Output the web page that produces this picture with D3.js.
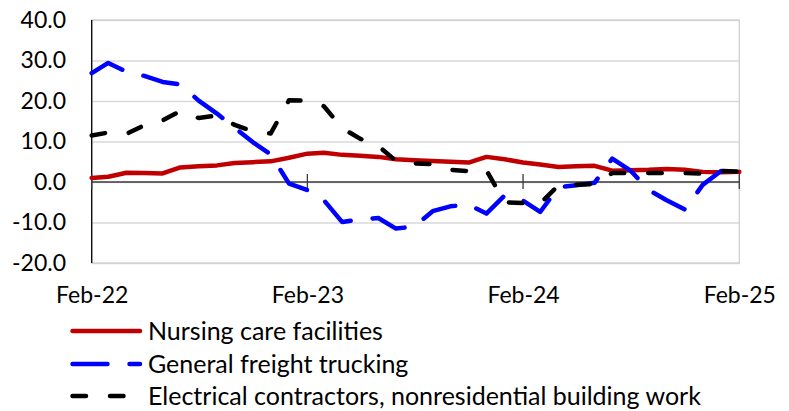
<!DOCTYPE html>
<html>
<head>
<meta charset="utf-8">
<script src="https://cdn.jsdelivr.net/npm/d3@7"></script>
<style>
  html, body { margin: 0; padding: 0; background: #fff; }
  svg { display: block; }
  text { font-family: Lato, "Open Sans", sans-serif; fill: #000; }
</style>
</head>
<body>
<svg id="chart" width="789" height="411"></svg>
<script>
// Monthly periods, Feb-22 .. Feb-25
const months = [
  "Feb-22","Mar-22","Apr-22","May-22","Jun-22","Jul-22","Aug-22","Sep-22","Oct-22","Nov-22","Dec-22",
  "Jan-23","Feb-23","Mar-23","Apr-23","May-23","Jun-23","Jul-23","Aug-23","Sep-23","Oct-23","Nov-23","Dec-23",
  "Jan-24","Feb-24","Mar-24","Apr-24","May-24","Jun-24","Jul-24","Aug-24","Sep-24","Oct-24","Nov-24","Dec-24",
  "Jan-25","Feb-25"
];

const nursingCare = [
  1.0, 1.3, 2.3, 2.2, 2.1, 3.6, 3.9, 4.1, 4.7, 4.9, 5.1,
  6.0, 7.0, 7.2, 6.7, 6.5, 6.2, 5.6, 5.4, 5.2, 5.0, 4.8, 6.2,
  5.6, 4.8, 4.3, 3.7, 3.9, 4.0, 2.8, 2.9, 3.0, 3.2, 3.0, 2.5,
  2.4, 2.5
];

const freightTrucking = [
  26.9, 29.4, 27.2, 26.2, 24.7, 24.1, 20.1, 16.9, 13.4, 9.8, 6.8,
  -0.4, -2.0, -4.5, -9.9, -9.2, -8.9, -11.5, -11.0, -7.2, -6.0, -5.6, -7.8,
  -3.3, -4.6, -7.4, -1.3, -0.8, -0.2, 5.8, 2.8, -2.0, -4.5, -6.8, -0.7,
  2.7, 2.5
];

const electricalContractors = [
  11.5, 12.2, 11.9, 14.0, 15.2, 17.5, 15.8, 16.4, 14.1, 12.5, 12.0,
  20.2, 20.1, 18.7, 13.3, 10.7, 8.9, 5.2, 4.6, 4.4, 3.0, 2.7, 2.9,
  -5.0, -5.2, -5.3, -0.8, -0.7, -0.5, 2.2, 2.2, 2.2, 2.2, 2.2, 2.1,
  2.7, 2.6
];

const seriesNames = [
  "Nursing care facilities",
  "General freight trucking",
  "Electrical contractors, nonresidential building work"
];

const yTicks = [-20, -10, 0, 10, 20, 30, 40];
const xTickLabels = ["Feb-22", "Feb-23", "Feb-24", "Feb-25"];

// ---- layout ----
const parseMonth = d3.timeParse("%b-%y");
const dates = months.map(parseMonth);

const plot = { left: 91.7, right: 739.3, top: 20, bottom: 263 };
const axisFontSize = 23;
const legendFontSize = 25;

const svg = d3.select("#chart");

const x = d3.scaleTime()
  .domain([dates[0], dates[dates.length - 1]])
  .range([plot.left, plot.right]);

const y = d3.scaleLinear()
  .domain([-20, 40])
  .range([plot.bottom, plot.top]);

// gridlines
svg.append("g")
  .attr("transform", `translate(${plot.left},0)`)
  .call(d3.axisLeft(y).tickValues(yTicks).tickSize(-(plot.right - plot.left)).tickFormat(""))
  .call(g => g.select(".domain").remove())
  .call(g => g.selectAll(".tick line").attr("stroke", "#d9d9d9").attr("stroke-width", 1.3));

// plot border (light grey on top/right/bottom)
svg.append("rect")
  .attr("x", plot.left).attr("y", plot.top)
  .attr("width", plot.right - plot.left).attr("height", plot.bottom - plot.top)
  .attr("fill", "none").attr("stroke", "#d0d0d0").attr("stroke-width", 1.3);

// value axis line
svg.append("line")
  .attr("x1", plot.left).attr("x2", plot.left)
  .attr("y1", plot.top).attr("y2", plot.bottom)
  .attr("stroke", "#000").attr("stroke-width", 1.3);

// value axis labels
svg.append("g")
  .attr("transform", `translate(66,0)`)
  .call(d3.axisLeft(y).tickValues(yTicks).tickSize(0).tickPadding(0).tickFormat(d => d.toFixed(1)))
  .call(g => g.select(".domain").remove())
  .call(g => g.selectAll("text")
    .attr("font-size", axisFontSize)
    .attr("font-family", "Lato, sans-serif")
    .attr("fill", "#000"));

// category axis at zero with crossing tick marks
const xTickDates = xTickLabels.map(parseMonth);
const y0 = y(0);
svg.append("line")
  .attr("x1", plot.left).attr("x2", plot.right)
  .attr("y1", y0).attr("y2", y0)
  .attr("stroke", "#3a3a3a").attr("stroke-width", 1.3);

svg.append("g").selectAll("line")
  .data(xTickDates)
  .join("line")
  .attr("x1", d => x(d)).attr("x2", d => x(d))
  .attr("y1", y0 - 8).attr("y2", y0 + 7)
  .attr("stroke", "#3a3a3a").attr("stroke-width", 1.3);

// category labels below the plot
svg.append("g")
  .attr("transform", `translate(0,${plot.bottom + 24})`)
  .call(d3.axisBottom(x).tickValues(xTickDates).tickSize(0).tickPadding(0).tickFormat(d3.timeFormat("%b-%y")))
  .call(g => g.select(".domain").remove())
  .call(g => g.selectAll("text")
    .attr("font-size", axisFontSize)
    .attr("font-family", "Lato, sans-serif")
    .attr("fill", "#000"));

// ---- series ----
const series = [
  { name: seriesNames[0], values: nursingCare, color: "#c00000", dash: null },
  { name: seriesNames[1], values: freightTrucking, color: "#0000ff", dash: "35,22" },
  { name: seriesNames[2], values: electricalContractors, color: "#000000", dash: "13.5,24" }
];

const line = d3.line()
  .x((d, i) => x(dates[i]))
  .y(d => y(d));

const lineWidth = 4.5;

svg.append("g").selectAll("path")
  .data(series)
  .join("path")
  .attr("d", s => line(s.values))
  .attr("fill", "none")
  .attr("stroke", s => s.color)
  .attr("stroke-width", lineWidth)
  .attr("stroke-linejoin", "round")
  .attr("stroke-linecap", "round")
  .attr("stroke-dasharray", s => s.dash);

// ---- legend ----
const legendRows = [331, 364, 396];
const legend = svg.append("g");
series.forEach((s, i) => {
  const row = legend.append("g").attr("transform", `translate(0,${legendRows[i]})`);
  row.append("line")
    .attr("x1", 72.5).attr("x2", 140)
    .attr("y1", 0).attr("y2", 0)
    .attr("stroke", s.color)
    .attr("stroke-width", lineWidth)
    .attr("stroke-linecap", "round")
    .attr("stroke-dasharray", s.dash);
  row.append("text")
    .attr("x", 148).attr("y", 0)
    .attr("dy", "0.35em")
    .attr("font-size", legendFontSize)
    .text(s.name);
});
</script>
</body>
</html>
